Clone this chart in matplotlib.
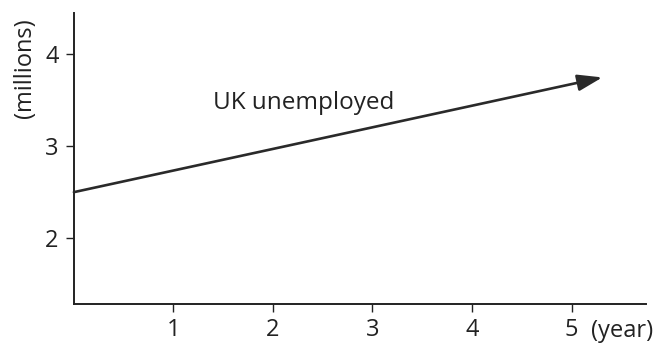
import matplotlib.pyplot as plt

# data
years = [0, 5.31]
unemployed = [2.5, 3.75]
x_ticks = [1, 2, 3, 4, 5]
y_ticks = [2, 3, 4]
series_label = 'UK unemployed'

plt.rcParams['font.family'] = ['Open Sans', 'DejaVu Sans']
ink = '#222222'
fs = 17

fig = plt.figure(figsize=(6.54, 3.46), dpi=100)
ax = fig.add_axes([0.113, 0.121, 0.875, 0.841])

ax.annotate('', xy=(years[1], unemployed[1]), xytext=(years[0], unemployed[0]),
            arrowprops=dict(arrowstyle='-|>,head_length=1.5,head_width=0.5',
                            color='#2a2a2a', lw=1.9, shrinkA=0, shrinkB=0))
ax.text(1.40, 3.47, series_label, fontsize=fs + 0.5, color=ink, ha='left', va='center')

ax.set_xlim(0, 5.75)
ax.set_ylim(1.28, 4.45)
ax.set_xticks(x_ticks)
ax.set_yticks(y_ticks)
ax.tick_params(axis='both', direction='out', length=6, width=1, colors=ink,
               labelsize=fs)
ax.tick_params(axis='x', pad=4)
ax.tick_params(axis='y', pad=5)
for side in ['top', 'right']:
    ax.spines[side].set_visible(False)
for side in ['left', 'bottom']:
    ax.spines[side].set_color(ink)
    ax.spines[side].set_linewidth(1.4)

ax.set_ylabel('(millions)', fontsize=fs, color=ink)
ax.yaxis.set_label_coords(-0.065, 0.81)
ax.text(5.2, -0.05, '(year)', transform=ax.get_xaxis_transform(), fontsize=fs,
        color=ink, ha='left', va='top')

fig.savefig('out.png', dpi=100)
